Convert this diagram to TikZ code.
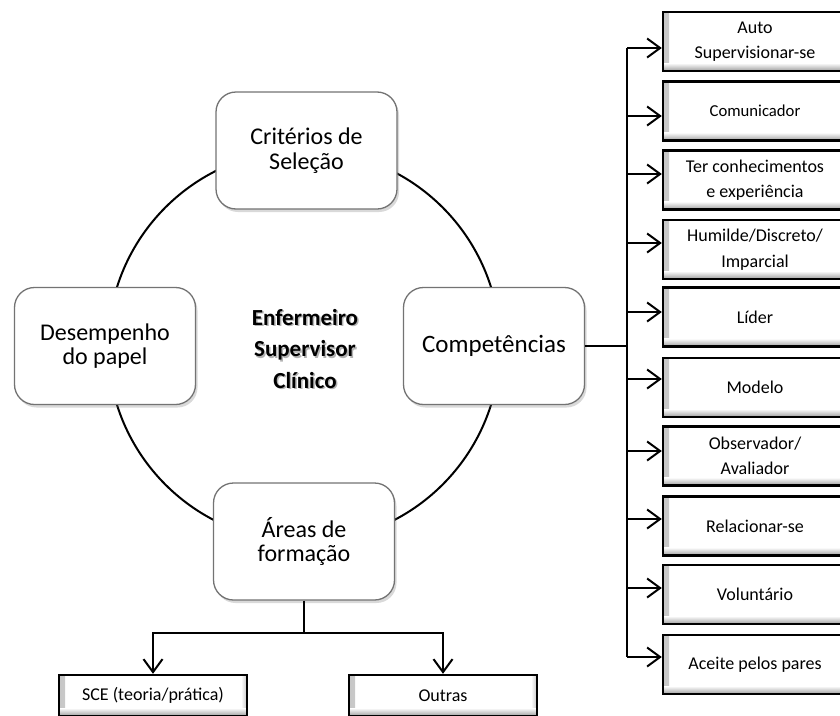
\documentclass[tikz,border=0pt]{standalone}
\usepackage{fontspec}
\setmainfont{Carlito}
\usetikzlibrary{arrows.meta,shadows,calc}

\tikzset{
  % rounded boxes around the ring
  ringbox/.style={draw=black!55, line width=1.3pt, fill=white, rounded corners=20pt,
    minimum width=181pt, minimum height=117pt, inner sep=0pt, align=center,
    font=\fontsize{24}{24.5}\selectfont,
    drop shadow={shadow xshift=2pt, shadow yshift=-3pt, opacity=0.25, fill=black!60}},
  % bevelled rectangular boxes
  bevelbox/.style={draw=black, line width=2.4pt, fill=white, inner sep=0pt, align=center,
    path picture={
      \shade[left color=black!22, right color=white]
        (path picture bounding box.south west) rectangle ([xshift=6pt]path picture bounding box.north west);
      \shade[left color=white, right color=black!22]
        ([xshift=-6pt]path picture bounding box.south east) rectangle (path picture bounding box.north east);
      \shade[top color=white, bottom color=black!38]
        ([yshift=8pt]path picture bounding box.south west) rectangle (path picture bounding box.south east);
    }},
  listbox/.style={bevelbox, minimum width=184pt, minimum height=59pt,
    font=\fontsize{18}{25.5}\selectfont},
  lowbox/.style={bevelbox, minimum width=188pt, minimum height=41pt,
    font=\fontsize{18}{22}\selectfont},
  link/.style={line width=2pt, black},
  arr/.style={link, -{Straight Barb[length=13pt,width=19pt,line width=2pt]}},
}

\begin{document}
\begin{tikzpicture}[x=1pt,y=-1pt]
  \useasboundingbox (0,0) rectangle (840,715);

  % the ring
  \draw[link] (304,346) circle (196);

  % central title with soft shadow
  \node[text=black!30, align=center, font=\bfseries\fontsize{23}{31.5}\selectfont]
    (titleshadow) at (306.5,350.5) {Enfermeiro\\Supervisor\\Clínico};
  \node[align=center, font=\bfseries\fontsize{23}{31.5}\selectfont]
    (title) at (305,349) {Enfermeiro\\Supervisor\\Clínico};

  % boxes on the ring
  \node[ringbox] (crit) at (306.5,150.5) {Critérios de\\Seleção};
  \node[ringbox] (desemp) at (105,346) {Desempenho\\do papel};
  \node[ringbox, font=\fontsize{25}{25}\selectfont] (comp) at (494,346) {Competências};
  \node[ringbox] (areas) at (304,541.5) {Áreas de\\formação};

  % list of competences
  \node[listbox] (b1)  at (755,41.5)  {Auto\\Supervisionar-se};
  \node[listbox, font=\fontsize{16.7}{25.5}\selectfont] (b2) at (755,111) {Comunicador};
  \node[listbox] (b3)  at (755,180)   {Ter conhecimentos\\e experiência};
  \node[listbox] (b4)  at (755,249.5) {Humilde/Discreto/\\Imparcial};
  \node[listbox] (b5)  at (755,317)   {Líder};
  \node[listbox] (b6)  at (755,387.5) {Modelo};
  \node[listbox] (b7)  at (755,456)   {Observador/\\Avaliador};
  \node[listbox] (b8)  at (755,526)   {Relacionar-se};
  \node[listbox] (b9)  at (755,594.5) {Voluntário};
  \node[listbox] (b10) at (755,664.5) {Aceite pelos pares};

  % trunk feeding the list
  \coordinate (t1)  at (627,48);
  \coordinate (t2)  at (627,116);
  \coordinate (t3)  at (627,174);
  \coordinate (t4)  at (627,243);
  \coordinate (t5)  at (627,312);
  \coordinate (t6)  at (627,379);
  \coordinate (t7)  at (627,451);
  \coordinate (t8)  at (627,519);
  \coordinate (t9)  at (627,588);
  \coordinate (t10) at (627,657);
  \draw[link] (t1) -- (t10);
  \draw[link] (comp.east) -- (comp.east -| t1);
  \foreach \i in {1,...,10}
    \draw[arr] (t\i) -- (t\i -| b\i.west);

  % training areas
  \node[lowbox] (sce) at (153,695.5) {SCE (teoria/prática)};
  \node[lowbox] (outras) at (443,695.5) {Outras};
  \coordinate (fork) at (304,633);
  \draw[link] (areas.south) -- (fork);
  \draw[arr] (fork) -| (sce.north);
  \draw[arr] (fork) -| (outras.north);
\end{tikzpicture}
\end{document}
